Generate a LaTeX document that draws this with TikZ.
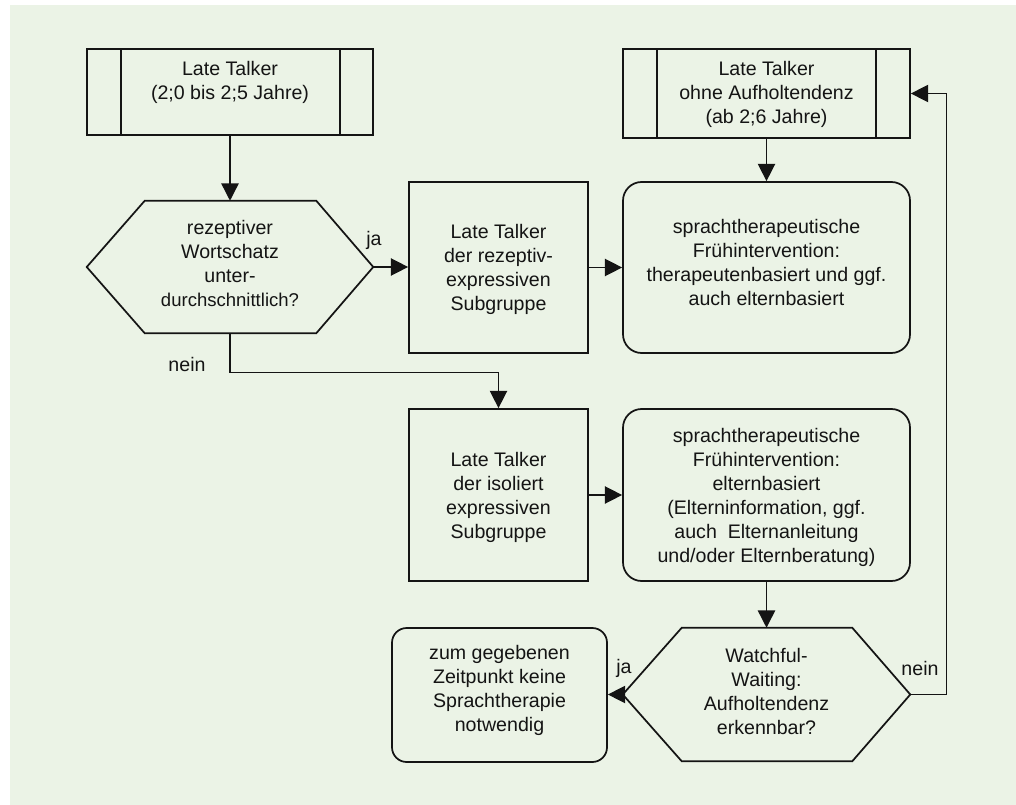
\documentclass[tikz,border=0pt]{standalone}
\usepackage{fontspec}
\setmainfont{Liberation Sans}
\usetikzlibrary{arrows.meta,calc}
\definecolor{bggreen}{RGB}{235,243,230}
\definecolor{ink}{RGB}{20,20,20}
\begin{document}
\begin{tikzpicture}[x=0.75pt,y=-0.75pt,
  proc/.style={draw=ink,line width=1.3pt,inner sep=0pt},
  ghost/.style={inner sep=0pt},
  lbl/.style={align=center,font=\fontsize{14.7}{18}\selectfont,inner sep=0pt,text=ink},
  edgelbl/.style={font=\fontsize{14.7}{18}\selectfont,inner sep=0pt,text=ink},
  conn/.style={draw=ink,line width=1.1pt,-{Triangle[length=13pt,width=13pt]}},
  outl/.style={draw=ink,line width=1.3pt}
]
\useasboundingbox (0,0) rectangle (1016,805);
\fill[white] (0,0) rectangle (1016,805);
\fill[bggreen] (10,5) rectangle (1016,805);

% Box 1 (predefined process)
\node[proc,minimum width=214.5pt,minimum height=64.5pt] (b1) at (230,92) {};
\draw[outl] ($(b1.north west)+(35,0)$) -- ($(b1.south west)+(35,0)$);
\draw[outl] ($(b1.north east)+(-34,0)$) -- ($(b1.south east)+(-34,0)$);
\node[lbl] (b1t) at (230,82) {Late Talker\\(2;0 bis 2;5 Jahre)};

% Box 3 (predefined process)
\node[proc,minimum width=215.25pt,minimum height=66.75pt] (b3) at (766.5,93.5) {};
\draw[outl] ($(b3.north west)+(35,0)$) -- ($(b3.south west)+(35,0)$);
\draw[outl] ($(b3.north east)+(-35,0)$) -- ($(b3.south east)+(-35,0)$);
\node[lbl] (b3t) at (766.5,94) {Late Talker\\ohne Aufholtendenz\\(ab 2;6 Jahre)};

% Hexagon 1
\node[ghost,minimum width=214.5pt,minimum height=99pt] (h1) at (230,267) {};
\draw[outl] (h1.west) -- ($(h1.north west)+(58,0)$) -- ($(h1.north east)+(-57,0)$) -- (h1.east)
  -- ($(h1.south east)+(-57,0)$) -- ($(h1.south west)+(58,0)$) -- cycle;
\node[lbl] (h1t) at (230,263.5) {rezeptiver\\Wortschatz\\unter-\\{\fontsize{13.9}{18}\selectfont durchschnittlich?}};

% Box 2
\node[proc,minimum width=134.25pt,minimum height=128.25pt] (b2) at (498.5,267.5) {};
\node[lbl] (b2t) at (498.5,269) {Late Talker\\der rezeptiv-\\expressiven\\Subgruppe};

% Rounded 1
\node[proc,rounded corners=14pt,minimum width=215.25pt,minimum height=128.25pt] (r1) at (766.5,267.5) {};
\node[lbl] (r1t) at (766.5,262.5) {sprachtherapeutische\\Frühintervention:\\therapeutenbasiert und ggf.\\auch elternbasiert};

% Box 4
\node[proc,minimum width=134.25pt,minimum height=129pt] (b4) at (498.5,495) {};
\node[lbl] (b4t) at (498.5,497.5) {Late Talker\\der isoliert\\expressiven\\Subgruppe};

% Rounded 2
\node[proc,rounded corners=14pt,minimum width=215.25pt,minimum height=129pt] (r2) at (766.5,495) {};
\node[lbl] (r2t) at (766.5,497) {sprachtherapeutische\\Frühintervention:\\elternbasiert\\(Elterninformation, ggf.\\auch~ Elternanleitung\\und/oder Elternberatung)};

% Hexagon 2
\node[ghost,minimum width=215.25pt,minimum height=99.75pt] (h2) at (766.5,694.5) {};
\draw[outl] (h2.west) -- ($(h2.north west)+(59,0)$) -- ($(h2.north east)+(-58,0)$) -- (h2.east)
  -- ($(h2.south east)+(-58,0)$) -- ($(h2.south west)+(59,0)$) -- cycle;
\node[lbl] (h2t) at (766.5,691) {Watchful-\\Waiting:\\Aufholtendenz\\erkennbar?};

% Rounded 3
\node[proc,rounded corners=11pt,minimum width=161.25pt,minimum height=100.5pt] (r3) at (499.5,695) {};
\node[lbl] (r3t) at (499.5,690) {zum gegebenen\\Zeitpunkt keine\\Sprachtherapie\\notwendig};

% Connectors
\draw[conn] (b1.south) -- (h1.north);
\draw[conn] (h1.east) -- (h1.east -| b2.west);
\node[edgelbl] (ja1) at (374,240) {ja};
\draw[conn] (h1.south) -- ++(0,39) -| (b4.north);
\node[edgelbl] (nein1) at (187,364) {nein};
\draw[conn] (b3.south) -- (r1.north);
\draw[conn] (b2.east) -- (r1.west);
\draw[conn] (b4.east) -- (r2.west);
\draw[conn] (r2.south) -- (h2.north);
\draw[conn] (h2.west) -- (h2.west -| r3.east);
\node[edgelbl] (ja2) at (624,668) {ja};
\draw[conn] (h2.east) -- ++(36,0) |- (b3.east);
\node[edgelbl] (nein2) at (920,668) {nein};
\end{tikzpicture}
\end{document}
